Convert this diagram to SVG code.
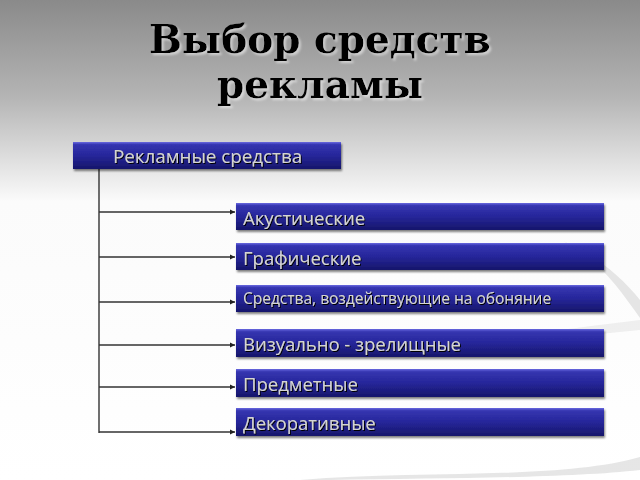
<svg xmlns="http://www.w3.org/2000/svg" width="640" height="480" viewBox="0 0 640 480">
<defs>
<linearGradient id="bg" x1="0" y1="0" x2="0" y2="1">
<stop offset="0" stop-color="#8a8a8a"/>
<stop offset="0.2" stop-color="#b4b4b4"/>
<stop offset="0.42" stop-color="#fbfbfb"/>
<stop offset="1" stop-color="#ffffff"/>
</linearGradient>
<linearGradient id="box" x1="0" y1="0" x2="0" y2="1">
<stop offset="0" stop-color="#6a6ae0"/>
<stop offset="0.1" stop-color="#3535b0"/>
<stop offset="0.5" stop-color="#26269a"/>
<stop offset="1" stop-color="#16166a"/>
</linearGradient>
<filter id="sh" x="-5%" y="-30%" width="110%" height="170%">
<feGaussianBlur in="SourceAlpha" stdDeviation="1.2"/>
<feOffset dx="1" dy="2" result="b"/>
<feComponentTransfer><feFuncA type="linear" slope="0.5"/></feComponentTransfer>
<feMerge><feMergeNode/><feMergeNode in="SourceGraphic"/></feMerge>
</filter>
<filter id="tsh" x="-5%" y="-20%" width="110%" height="150%">
<feOffset in="SourceAlpha" dx="1" dy="1" result="o"/>
<feGaussianBlur in="o" stdDeviation="0.7"/>
<feMerge><feMergeNode/><feMergeNode in="SourceGraphic"/></feMerge>
</filter>
<filter id="ttl" x="-5%" y="-20%" width="110%" height="150%">
<feFlood flood-color="#ffffff" flood-opacity="0.5"/>
<feComposite in2="SourceAlpha" operator="in"/>
<feOffset dx="1.5" dy="1.5"/>
<feGaussianBlur stdDeviation="0.8"/>
<feMerge><feMergeNode/><feMergeNode in="SourceGraphic"/></feMerge>
</filter>
<marker id="arr" markerWidth="6" markerHeight="6" refX="5" refY="3" orient="auto" markerUnits="userSpaceOnUse">
<path d="M0,0.5 L5,3 L0,5.5 Z" fill="#222"/>
</marker>
<style>
.box{fill:url(#box);filter:url(#sh)}
.lbl{font-family:"Open Sans","Noto Sans","DejaVu Sans",sans-serif;fill:#d4d4d4;font-size:18.5px;filter:url(#tsh)}
.sm{font-size:15.5px}
.title{font-family:"DejaVu Serif","Liberation Serif",serif;font-weight:bold;font-size:39px;fill:#000;text-anchor:middle;filter:url(#ttl)}
.conn{stroke:#333;stroke-width:1.4;fill:none}
</style>
</defs>
<rect width="640" height="480" fill="url(#bg)"/>
<g id="background-swooshes" fill="#d6d6d6" opacity="0.6">
<path d="M563,241 C600,260 620,290 640,318 L640,300 C620,275 595,255 563,241 Z"/>
<path d="M640,457 C560,480 420,470 300,480 L330,480 C450,478 570,478 640,470 Z"/>
<path d="M640,320 C560,330 470,340 400,360 C470,345 560,338 640,330 Z" opacity="0.6"/>
</g>
<g id="title">
<text class="title" x="320" y="53">Выбор средств</text>
<text class="title" x="320" y="98">рекламы</text>
</g>
<g id="connectors">
<line class="conn" x1="99" y1="166" x2="99" y2="433"/>
<line class="conn" x1="99" y1="212" x2="235" y2="212" marker-end="url(#arr)"/>
<line class="conn" x1="99" y1="257" x2="235" y2="257" marker-end="url(#arr)"/>
<line class="conn" x1="99" y1="302" x2="235" y2="302" marker-end="url(#arr)"/>
<line class="conn" x1="99" y1="345" x2="235" y2="345" marker-end="url(#arr)"/>
<line class="conn" x1="99" y1="387" x2="235" y2="387" marker-end="url(#arr)"/>
<line class="conn" x1="99" y1="432" x2="235" y2="432" marker-end="url(#arr)"/>
</g>
<g id="node-root">
<rect class="box" x="73" y="142" width="268" height="27"/>
<text class="lbl" x="113" y="163" style="font-size:18.8px">Рекламные средства</text>
</g>
<g id="node-acoustic">
<rect class="box" x="236" y="203" width="368" height="27"/>
<text class="lbl" x="243" y="225">Акустические</text>
</g>
<g id="node-graphic">
<rect class="box" x="236" y="243" width="368" height="27"/>
<text class="lbl" x="243" y="265">Графические</text>
</g>
<g id="node-smell">
<rect class="box" x="236" y="285" width="368" height="27"/>
<text class="lbl sm" x="243" y="304">Средства, воздействующие на обоняние</text>
</g>
<g id="node-visual">
<rect class="box" x="236" y="329" width="368" height="28"/>
<text class="lbl" x="243" y="351">Визуально - зрелищные</text>
</g>
<g id="node-object">
<rect class="box" x="236" y="369" width="368" height="28"/>
<text class="lbl" x="243" y="391">Предметные</text>
</g>
<g id="node-decor">
<rect class="box" x="236" y="408" width="368" height="28"/>
<text class="lbl" x="243" y="430">Декоративные</text>
</g>
</svg>
